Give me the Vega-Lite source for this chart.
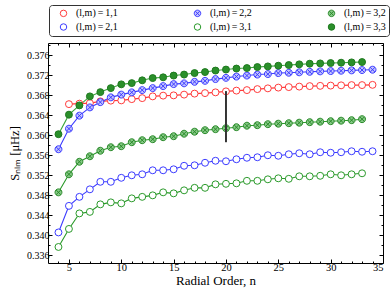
{
  "$schema": "https://vega.github.io/schema/vega-lite/v6.json",
  "width": 335,
  "height": 220,
  "autosize": "none",
  "padding": {"left": 48, "top": 43, "right": 7, "bottom": 30},
  "background": "white",
  "config": {
    "view": {"stroke": "black", "strokeWidth": 1},
    "font": "Liberation Serif",
    "axis": {"grid": false, "domain": false, "tickColor": "black", "labelColor": "black", "titleColor": "black", "labelFont": "Liberation Serif", "titleFont": "Liberation Serif", "titleFontWeight": "normal"}
  },
  "datasets": {
    "pts": [
      {"s":"1,1","n":5,"v":0.3662},{"s":"1,1","n":6,"v":0.3663},{"s":"1,1","n":7,"v":0.3664},{"s":"1,1","n":8,"v":0.36675},{"s":"1,1","n":9,"v":0.3669},{"s":"1,1","n":10,"v":0.36695},{"s":"1,1","n":11,"v":0.3672},{"s":"1,1","n":12,"v":0.3674},{"s":"1,1","n":13,"v":0.36775},{"s":"1,1","n":14,"v":0.3679},{"s":"1,1","n":15,"v":0.36795},{"s":"1,1","n":16,"v":0.3681},{"s":"1,1","n":17,"v":0.3683},{"s":"1,1","n":18,"v":0.3684},{"s":"1,1","n":19,"v":0.36855},{"s":"1,1","n":20,"v":0.36875},{"s":"1,1","n":21,"v":0.3689},{"s":"1,1","n":22,"v":0.369},{"s":"1,1","n":23,"v":0.3692},{"s":"1,1","n":24,"v":0.36935},{"s":"1,1","n":25,"v":0.3695},{"s":"1,1","n":26,"v":0.3696},{"s":"1,1","n":27,"v":0.3697},{"s":"1,1","n":28,"v":0.3698},{"s":"1,1","n":29,"v":0.36985},{"s":"1,1","n":30,"v":0.3699},{"s":"1,1","n":31,"v":0.36995},{"s":"1,1","n":32,"v":0.37},{"s":"1,1","n":33,"v":0.37},{"s":"1,1","n":34,"v":0.37005},
      {"s":"2,2","n":4,"v":0.3572},{"s":"2,2","n":5,"v":0.3613},{"s":"2,2","n":6,"v":0.3639},{"s":"2,2","n":7,"v":0.36555},{"s":"2,2","n":8,"v":0.3666},{"s":"2,2","n":9,"v":0.36755},{"s":"2,2","n":10,"v":0.3681},{"s":"2,2","n":11,"v":0.36855},{"s":"2,2","n":12,"v":0.369},{"s":"2,2","n":13,"v":0.3694},{"s":"2,2","n":14,"v":0.3698},{"s":"2,2","n":15,"v":0.3702},{"s":"2,2","n":16,"v":0.37035},{"s":"2,2","n":17,"v":0.37065},{"s":"2,2","n":18,"v":0.37085},{"s":"2,2","n":19,"v":0.3712},{"s":"2,2","n":20,"v":0.37145},{"s":"2,2","n":21,"v":0.3717},{"s":"2,2","n":22,"v":0.3719},{"s":"2,2","n":23,"v":0.3721},{"s":"2,2","n":24,"v":0.3722},{"s":"2,2","n":25,"v":0.3724},{"s":"2,2","n":26,"v":0.37247},{"s":"2,2","n":27,"v":0.37255},{"s":"2,2","n":28,"v":0.37265},{"s":"2,2","n":29,"v":0.37274},{"s":"2,2","n":30,"v":0.3728},{"s":"2,2","n":31,"v":0.37287},{"s":"2,2","n":32,"v":0.37294},{"s":"2,2","n":33,"v":0.373},{"s":"2,2","n":34,"v":0.37307},
      {"s":"3,3","n":4,"v":0.3602},{"s":"3,3","n":5,"v":0.3641},{"s":"3,3","n":6,"v":0.36595},{"s":"3,3","n":7,"v":0.36775},{"s":"3,3","n":8,"v":0.3686},{"s":"3,3","n":9,"v":0.3694},{"s":"3,3","n":10,"v":0.37015},{"s":"3,3","n":11,"v":0.3704},{"s":"3,3","n":12,"v":0.37095},{"s":"3,3","n":13,"v":0.3714},{"s":"3,3","n":14,"v":0.37155},{"s":"3,3","n":15,"v":0.3719},{"s":"3,3","n":16,"v":0.3721},{"s":"3,3","n":17,"v":0.3724},{"s":"3,3","n":18,"v":0.3726},{"s":"3,3","n":19,"v":0.3729},{"s":"3,3","n":20,"v":0.3731},{"s":"3,3","n":21,"v":0.3733},{"s":"3,3","n":22,"v":0.3734},{"s":"3,3","n":23,"v":0.3736},{"s":"3,3","n":24,"v":0.37373},{"s":"3,3","n":25,"v":0.37387},{"s":"3,3","n":26,"v":0.374},{"s":"3,3","n":27,"v":0.37414},{"s":"3,3","n":28,"v":0.37427},{"s":"3,3","n":29,"v":0.37433},{"s":"3,3","n":30,"v":0.3744},{"s":"3,3","n":31,"v":0.37447},{"s":"3,3","n":32,"v":0.37453},{"s":"3,3","n":33,"v":0.3746},
      {"s":"3,2","n":4,"v":0.3486},{"s":"3,2","n":5,"v":0.3522},{"s":"3,2","n":6,"v":0.3547},{"s":"3,2","n":7,"v":0.3558},{"s":"3,2","n":8,"v":0.3569},{"s":"3,2","n":9,"v":0.3576},{"s":"3,2","n":10,"v":0.3578},{"s":"3,2","n":11,"v":0.3586},{"s":"3,2","n":12,"v":0.359},{"s":"3,2","n":13,"v":0.3592},{"s":"3,2","n":14,"v":0.3596},{"s":"3,2","n":15,"v":0.3598},{"s":"3,2","n":16,"v":0.3603},{"s":"3,2","n":17,"v":0.3607},{"s":"3,2","n":18,"v":0.361},{"s":"3,2","n":19,"v":0.3612},{"s":"3,2","n":20,"v":0.3614},{"s":"3,2","n":21,"v":0.3616},{"s":"3,2","n":22,"v":0.3619},{"s":"3,2","n":23,"v":0.362},{"s":"3,2","n":24,"v":0.3622},{"s":"3,2","n":25,"v":0.3623},{"s":"3,2","n":26,"v":0.3624},{"s":"3,2","n":27,"v":0.3625},{"s":"3,2","n":28,"v":0.3626},{"s":"3,2","n":29,"v":0.3627},{"s":"3,2","n":30,"v":0.3628},{"s":"3,2","n":31,"v":0.3629},{"s":"3,2","n":32,"v":0.363},{"s":"3,2","n":33,"v":0.3632},
      {"s":"2,1","n":4,"v":0.3406},{"s":"2,1","n":5,"v":0.3459},{"s":"2,1","n":6,"v":0.3477},{"s":"2,1","n":7,"v":0.3492},{"s":"2,1","n":8,"v":0.3507},{"s":"2,1","n":9,"v":0.3507},{"s":"2,1","n":10,"v":0.3515},{"s":"2,1","n":11,"v":0.352},{"s":"2,1","n":12,"v":0.3522},{"s":"2,1","n":13,"v":0.353},{"s":"2,1","n":14,"v":0.353},{"s":"2,1","n":15,"v":0.3532},{"s":"2,1","n":16,"v":0.3539},{"s":"2,1","n":17,"v":0.354},{"s":"2,1","n":18,"v":0.3545},{"s":"2,1","n":19,"v":0.3549},{"s":"2,1","n":20,"v":0.3548},{"s":"2,1","n":21,"v":0.3552},{"s":"2,1","n":22,"v":0.3555},{"s":"2,1","n":23,"v":0.3556},{"s":"2,1","n":24,"v":0.356},{"s":"2,1","n":25,"v":0.3559},{"s":"2,1","n":26,"v":0.3562},{"s":"2,1","n":27,"v":0.3564},{"s":"2,1","n":28,"v":0.3562},{"s":"2,1","n":29,"v":0.3566},{"s":"2,1","n":30,"v":0.3565},{"s":"2,1","n":31,"v":0.3566},{"s":"2,1","n":32,"v":0.3568},{"s":"2,1","n":33,"v":0.3567},{"s":"2,1","n":34,"v":0.3568},
      {"s":"3,1","n":4,"v":0.3377},{"s":"3,1","n":5,"v":0.3413},{"s":"3,1","n":6,"v":0.3444},{"s":"3,1","n":7,"v":0.3447},{"s":"3,1","n":8,"v":0.3462},{"s":"3,1","n":9,"v":0.3466},{"s":"3,1","n":10,"v":0.3464},{"s":"3,1","n":11,"v":0.3474},{"s":"3,1","n":12,"v":0.3477},{"s":"3,1","n":13,"v":0.348},{"s":"3,1","n":14,"v":0.3486},{"s":"3,1","n":15,"v":0.3484},{"s":"3,1","n":16,"v":0.349},{"s":"3,1","n":17,"v":0.3495},{"s":"3,1","n":18,"v":0.3495},{"s":"3,1","n":19,"v":0.3502},{"s":"3,1","n":20,"v":0.3503},{"s":"3,1","n":21,"v":0.3504},{"s":"3,1","n":22,"v":0.3509},{"s":"3,1","n":23,"v":0.3509},{"s":"3,1","n":24,"v":0.3512},{"s":"3,1","n":25,"v":0.3514},{"s":"3,1","n":26,"v":0.3513},{"s":"3,1","n":27,"v":0.3518},{"s":"3,1","n":28,"v":0.3518},{"s":"3,1","n":29,"v":0.3519},{"s":"3,1","n":30,"v":0.3522},{"s":"3,1","n":31,"v":0.352},{"s":"3,1","n":32,"v":0.3522},{"s":"3,1","n":33,"v":0.3524}
    ],
    "bar": [{"n": 20, "lo": 0.3586, "hi": 0.3688}]
  },
  "layer": [
    {
      "data": {"name": "pts"},
      "mark": {"type": "line", "strokeWidth": 1.1},
      "encoding": {
        "x": {"field": "n", "type": "quantitative", "scale": {"domain": [3, 35], "nice": false, "zero": false},
              "axis": {"orient": "bottom", "values": [5, 10, 15, 20, 25, 30, 35], "tickSize": -4, "labelPadding": 3, "labelFontSize": 10.5, "title": "Radial Order, n", "titleFontSize": 13, "titlePadding": 2}},
        "y": {"field": "v", "type": "quantitative", "scale": {"domain": [0.3345, 0.3784], "nice": false, "zero": false},
              "axis": {"orient": "left", "values": [0.336, 0.34, 0.344, 0.348, 0.352, 0.356, 0.36, 0.364, 0.368, 0.372, 0.376], "format": ".3f", "tickSize": -4, "labelPadding": 3, "labelFontSize": 10, "title": "Sₙₗₘ [μHz]", "titleFontSize": 12.5, "titlePadding": 5}},
        "color": {"field": "s", "type": "nominal", "legend": null,
                  "scale": {"domain": ["1,1", "2,1", "2,2", "3,1", "3,2", "3,3"], "range": ["#ff3b3b", "#3b3bff", "#3b3bff", "#2a9a2a", "#2a9a2a", "#3aa53a"]}},
        "detail": {"field": "s"},
        "order": {"field": "n"}
      }
    },
    {
      "data": {"name": "pts"},
      "mark": {"type": "point", "size": 48, "strokeWidth": 1, "filled": false, "fillOpacity": 1, "opacity": 1},
      "encoding": {
        "x": {"field": "n", "type": "quantitative", "axis": {"orient": "top", "values": [5, 10, 15, 20, 25, 30, 35], "tickSize": -4, "labels": false, "title": null}},
        "y": {"field": "v", "type": "quantitative", "axis": {"orient": "right", "values": [0.336, 0.34, 0.344, 0.348, 0.352, 0.356, 0.36, 0.364, 0.368, 0.372, 0.376], "tickSize": -4, "labels": false, "title": null}},
        "stroke": {"field": "s", "type": "nominal",
                   "scale": {"domain": ["1,1", "2,2", "3,2", "2,1", "3,1", "3,3"], "range": ["#ff3b3b", "#3b3bff", "#2a8a2a", "#3b3bff", "#2a9a2a", "#1f7a1f"]},
                   "legend": {"title": null, "orient": "none", "legendX": 1, "legendY": -38, "columns": 3, "direction": "horizontal",
                              "strokeColor": "#333", "fillColor": "white", "cornerRadius": 3, "padding": 3,
                              "labelFont": "Liberation Serif", "labelFontSize": 10, "labelColor": "black", "symbolSize": 42, "symbolStrokeWidth": 1,
                              "columnPadding": 68, "rowPadding": 2, "symbolOffset": 6.5, "labelOffset": 7.5, "gridAlign": "all",
                              "labelExpr": "'(l,m)\u2009=\u2009' + datum.label"}},
        "fill": {"field": "s", "type": "nominal",
                 "scale": {"domain": ["1,1", "2,2", "3,2", "2,1", "3,1", "3,3"], "range": ["#ffffff", "#c4c4ff", "#86c986", "#ffffff", "#ffffff", "#2a8f2a"]}},
        "shape": {"field": "s", "type": "nominal",
                  "scale": {"domain": ["1,1", "2,2", "3,2", "2,1", "3,1", "3,3"], "range": ["circle", "M1,0A1,1,0,1,1,-1,0A1,1,0,1,1,1,0ZM-0.7,-0.7L0.7,0.7M-0.7,0.7L0.7,-0.7", "M1,0A1,1,0,1,1,-1,0A1,1,0,1,1,1,0ZM-0.7,-0.7L0.7,0.7M-0.7,0.7L0.7,-0.7", "circle", "circle", "circle"]}}
      }
    },
    {
      "data": {"name": "bar"},
      "mark": {"type": "rule", "color": "#333333", "strokeWidth": 2},
      "encoding": {
        "x": {"field": "n", "type": "quantitative", "axis": {"orient": "bottom", "values": [4,6,7,8,9,11,12,13,14,16,17,18,19,21,22,23,24,26,27,28,29,31,32,33,34], "tickSize": -2, "labels": false, "title": null}},
        "y": {"field": "lo", "type": "quantitative", "axis": {"orient": "left", "values": [0.338, 0.342, 0.346, 0.35, 0.354, 0.358, 0.362, 0.366, 0.37, 0.374, 0.378], "tickSize": -2, "labels": false, "title": null}},
        "y2": {"field": "hi"}
      }
    },
    {
      "data": {"name": "bar"},
      "mark": {"type": "point", "opacity": 0},
      "encoding": {
        "x": {"field": "n", "type": "quantitative", "axis": {"orient": "top", "values": [4,6,7,8,9,11,12,13,14,16,17,18,19,21,22,23,24,26,27,28,29,31,32,33,34], "tickSize": -2, "labels": false, "title": null}},
        "y": {"field": "lo", "type": "quantitative", "axis": {"orient": "right", "values": [0.338, 0.342, 0.346, 0.35, 0.354, 0.358, 0.362, 0.366, 0.37, 0.374, 0.378], "tickSize": -2, "labels": false, "title": null}}
      }
    }
  ],
  "resolve": {"axis": {"x": "independent", "y": "independent"}}
}
